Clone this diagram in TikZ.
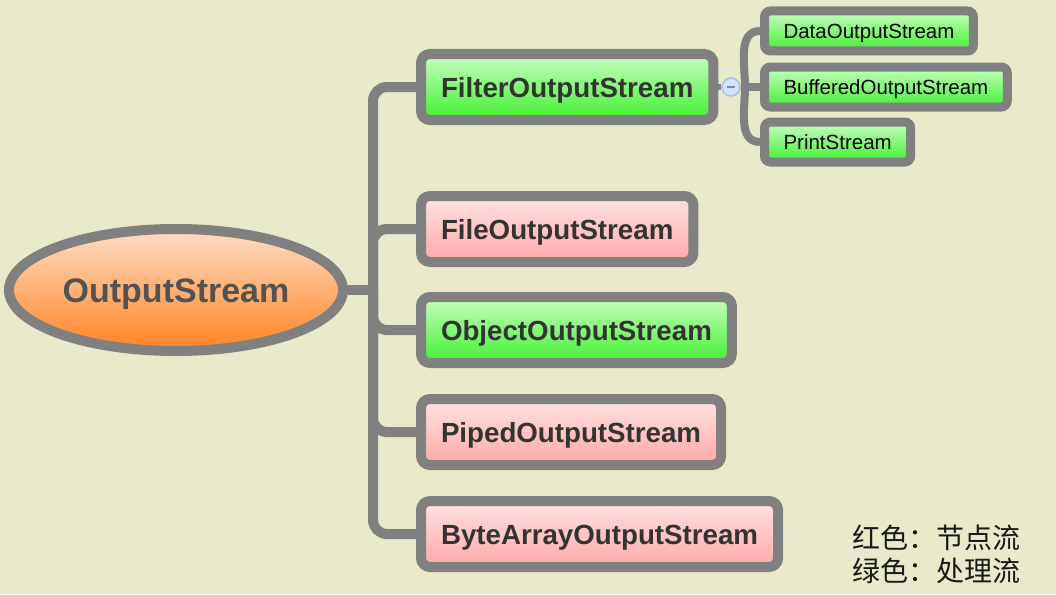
\documentclass[tikz,border=0pt]{standalone}
\usepackage{fontspec}
\setmainfont{Liberation Sans}
\newfontfamily\cjk{Noto Sans CJK SC}
\usepackage{xcolor}
\usetikzlibrary{positioning,shapes.geometric}
\definecolor{bg}{HTML}{E9EACB}
\definecolor{edge}{HTML}{808080}
\definecolor{txt}{HTML}{333333}
\definecolor{gtop}{HTML}{C8FFC0}
\definecolor{gbot}{HTML}{40F030}
\definecolor{ptop}{HTML}{FFE2E2}
\definecolor{pbot}{HTML}{FFA8A8}
\definecolor{otop}{HTML}{FFDCC4}
\definecolor{obot}{HTML}{FF8424}
\definecolor{foldfill}{HTML}{D6E2FA}
\definecolor{folddraw}{HTML}{A8BEEB}
\tikzset{
  link/.style    ={draw=edge, line width=10pt, rounded corners=14pt},
  sublink/.style ={draw=edge, line width=8pt},
  bigbox/.style  ={draw=edge, line width=10pt, rounded corners=9pt, inner xsep=20pt,
                   minimum height=66pt, anchor=west, text=txt,
                   text height=20pt, text depth=0pt,
                   font=\fontsize{27.7}{30}\selectfont\bfseries},
  smallbox/.style={draw=edge, line width=9pt, rounded corners=6pt, inner xsep=19pt,
                   minimum height=40pt, anchor=west, text=black,
                   text height=14.7pt, text depth=0pt,
                   font=\fontsize{20.5}{24}\selectfont},
  procbox/.style ={top color=gtop, bottom color=gbot},
  nodebox/.style ={top color=ptop, bottom color=pbot}
}
\begin{document}
\begin{tikzpicture}[x=1pt,y=-1pt]
    \useasboundingbox (0,0) rectangle (1056,594);
    \fill[bg] (0,0) rectangle (1056,594);
    % root
    \node[ellipse, draw=edge, line width=10pt, top color=otop, bottom color=obot,
          minimum width=334pt, minimum height=122pt, text=txt!85!white,
          text height=24.5pt, text depth=0pt,
          font=\fontsize{34}{36}\selectfont\bfseries] (root) at (176,290) {OutputStream};
    \coordinate (hub) at (373,290);
    % children
    \node[bigbox, procbox] (filt) at (416,87)  {FilterOutputStream};
    \node[bigbox, nodebox] (file) at (416,229) {FileOutputStream};
    \node[bigbox, procbox] (obj)  at (416,330) {ObjectOutputStream};
    \node[bigbox, nodebox] (pipe) at (416,432) {PipedOutputStream};
    \node[bigbox, nodebox] (byte) at (416,534) {ByteArrayOutputStream};
    % trunk
    \draw[link, rounded corners=0pt] (root.east) -- (hub);
    \foreach \n in {filt,file,obj,pipe,byte}
      \draw[link] (hub) |- (\n.west);
    % filter children
    \node[circle, draw=folddraw, fill=foldfill, line width=1.5pt, minimum size=18pt,
          inner sep=0pt] (fold) at (731,87) {};
    \draw[folddraw!70!blue!60!gray, line width=1.5pt] ([xshift=-4pt]fold.center) -- ([xshift=4pt]fold.center);
    \coordinate (subhub) at (745,87);
    \node[smallbox, procbox] (data)  at (760,31)  {DataOutputStream};
    \node[smallbox, procbox] (buf)   at (760,87)  {BufferedOutputStream};
    \node[smallbox, procbox] (print) at (760,142) {PrintStream};
    \draw[sublink, line width=6pt] (filt.east) -- (fold.west);
    \draw[sublink] (fold.east) -- (buf.west);
    \draw[sublink] (subhub) to[out=90, in=180] (data.west);
    \draw[sublink] (subhub) to[out=-90, in=180] (print.west);
    % legend
    \node[anchor=north west, align=left, inner sep=0pt, text=black!90,
          font=\cjk\fontsize{28}{33}\selectfont] (legend) at (852,525)
          {红色：节点流\\绿色：处理流};
\end{tikzpicture}
\end{document}
